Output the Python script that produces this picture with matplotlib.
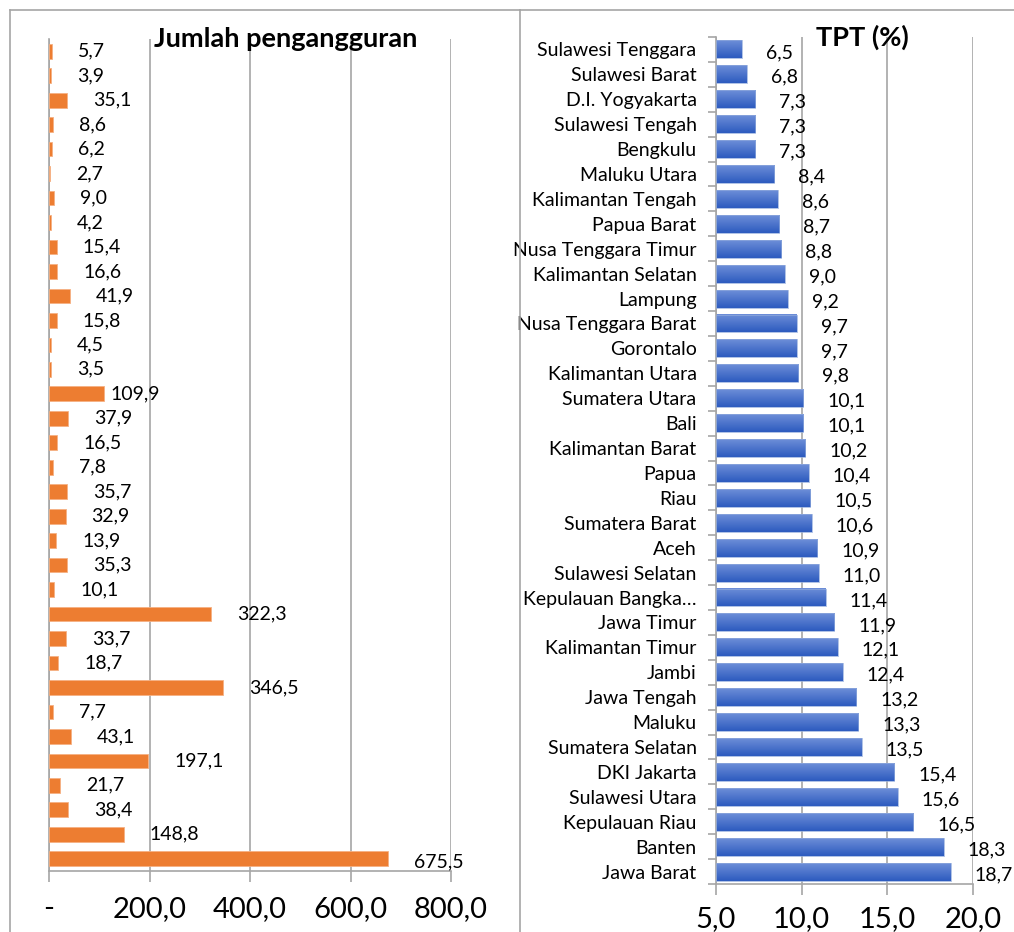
import matplotlib
matplotlib.use("Agg")
import matplotlib.pyplot as plt
import numpy as np
from matplotlib.lines import Line2D

plt.rcParams['font.family'] = ['Lato', 'DejaVu Sans']

# left panel: jumlah pengangguran (ribu), top to bottom
jumlah = [5.7, 3.9, 35.1, 8.6, 6.2, 2.7, 9.0, 4.2, 15.4, 16.6, 41.9, 15.8, 4.5, 3.5,
          109.9, 37.9, 16.5, 7.8, 35.7, 32.9, 13.9, 35.3, 10.1, 322.3, 33.7, 18.7,
          346.5, 7.7, 43.1, 197.1, 21.7, 38.4, 148.8, 675.5]

# right panel: TPT (%), top to bottom
provinsi = ["Sulawesi Tenggara", "Sulawesi Barat", "D.I. Yogyakarta", "Sulawesi Tengah",
            "Bengkulu", "Maluku Utara", "Kalimantan Tengah", "Papua Barat",
            "Nusa Tenggara Timur", "Kalimantan Selatan", "Lampung", "Nusa Tenggara Barat",
            "Gorontalo", "Kalimantan Utara", "Sumatera Utara", "Bali", "Kalimantan Barat",
            "Papua", "Riau", "Sumatera Barat", "Aceh", "Sulawesi Selatan",
            "Kepulauan Bangka…", "Jawa Timur", "Kalimantan Timur", "Jambi", "Jawa Tengah",
            "Maluku", "Sumatera Selatan", "DKI Jakarta", "Sulawesi Utara", "Kepulauan Riau",
            "Banten", "Jawa Barat"]
tpt = [6.5, 6.8, 7.3, 7.3, 7.3, 8.4, 8.6, 8.7, 8.8, 9.0, 9.2, 9.7, 9.7, 9.8, 10.1, 10.1,
       10.2, 10.4, 10.5, 10.6, 10.9, 11.0, 11.4, 11.9, 12.1, 12.4, 13.2, 13.3, 13.5, 15.4,
       15.6, 16.5, 18.3, 18.7]

left_ticks = [0, 200, 400, 600, 800]
left_ticklabels = ["-", "200,0", "400,0", "600,0", "800,0"]
right_ticks = [5, 10, 15, 20]
right_ticklabels = ["5,0", "10,0", "15,0", "20,0"]

W, H = 1014, 932
fig = plt.figure(figsize=(W / 100, H / 100), dpi=100)

def fx(px):
    return px / W

def fy(py):
    return 1 - py / H

# panel borders
border = '#a6a6a6'
fig.add_artist(Line2D([fx(10), fx(10)], [fy(10), 0], color=border, lw=1.2))
fig.add_artist(Line2D([fx(10), fx(520)], [fy(10), fy(10)], color=border, lw=1.2))
fig.add_artist(Line2D([fx(520), fx(520)], [fy(10), 0], color=border, lw=1.2))
fig.add_artist(Line2D([fx(520), 1], [fy(10), fy(10)], color=border, lw=1.2))

grid_c = '#a6a6a6'
n = len(jumlah)
y = np.arange(n)

# ---- left
ax1 = fig.add_axes([fx(49), fy(871), fx(451) - fx(49), fy(39) - fy(871)])
ax1.barh(y, jumlah, height=0.6, color='#ED7D31', edgecolor='#f5b183', linewidth=0.6, zorder=3)
ax1.set_ylim(n - 0.5, -0.5)
ax1.set_xlim(0, 800)
ax1.set_xticks(left_ticks)
ax1.set_xticklabels(left_ticklabels, fontsize=21)
ax1.set_yticks([])
ax1.grid(axis='x', color=grid_c, lw=1.2, zorder=0)
for s in ['top', 'right']:
    ax1.spines[s].set_visible(False)
for s in ['left', 'bottom']:
    ax1.spines[s].set_color(grid_c)
    ax1.spines[s].set_linewidth(1.2)
ax1.tick_params(axis='x', length=8, color=grid_c, width=1.2, pad=10)
for i, v in enumerate(jumlah):
    dy = 3 if v > 600 else 0
    dx = 6 if 100 < v < 120 else 26
    ax1.annotate(f"{v:.1f}".replace('.', ','), (v, i), xytext=(dx, -dy),
                 textcoords='offset pixels', ha='left', va='center', fontsize=14)
ax1.text(0.59, 1.0, "Jumlah pengangguran", transform=ax1.transAxes, ha='center',
         va='center', fontsize=19.5, fontweight='bold')

# ---- right
ax2 = fig.add_axes([fx(716), fy(884), fx(973) - fx(716), fy(37) - fy(884)])
bars = ax2.barh(y, [v - 5 for v in tpt], left=5, height=0.72, color='none',
                edgecolor='#8faadc', linewidth=0.5, zorder=3)
grad = np.linspace(0, 1, 64).reshape(-1, 1)
cmap = matplotlib.colors.LinearSegmentedColormap.from_list('g', ['#6d8ed8', '#2d5bbf'])
for b in bars:
    x0, y0 = b.get_x(), b.get_y()
    ax2.imshow(grad, aspect='auto', cmap=cmap, zorder=2,
               extent=[x0, x0 + b.get_width(), y0 + b.get_height(), y0])
ax2.set_ylim(n - 0.5, -0.5)
ax2.set_xlim(5, 20)
ax2.set_xticks(right_ticks)
ax2.set_xticklabels(right_ticklabels, fontsize=21)
ax2.set_yticks(y)
ax2.set_yticklabels(provinsi, fontsize=14)
ax2.set_yticks(np.arange(-0.5, n, 1), minor=True)
ax2.tick_params(axis='y', which='major', length=0, pad=14)
ax2.tick_params(axis='y', which='minor', length=6, color=grid_c, width=1.2)
ax2.tick_params(axis='x', length=8, color=grid_c, width=1.2, pad=8)
ax2.grid(axis='x', color=grid_c, lw=1.2, zorder=0)
for s in ['top', 'right']:
    ax2.spines[s].set_visible(False)
for s in ['left', 'bottom']:
    ax2.spines[s].set_color(grid_c)
    ax2.spines[s].set_linewidth(1.2)
for i, v in enumerate(tpt):
    ax2.annotate(f"{v:.1f}".replace('.', ','), (v, i), xytext=(24, -3),
                 textcoords='offset pixels', ha='left', va='center', fontsize=14)
ax2.text(0.57, 1.0, "TPT (%)", transform=ax2.transAxes, ha='center',
         va='center', fontsize=19.5, fontweight='bold')

fig.savefig("out.png", dpi=100)
